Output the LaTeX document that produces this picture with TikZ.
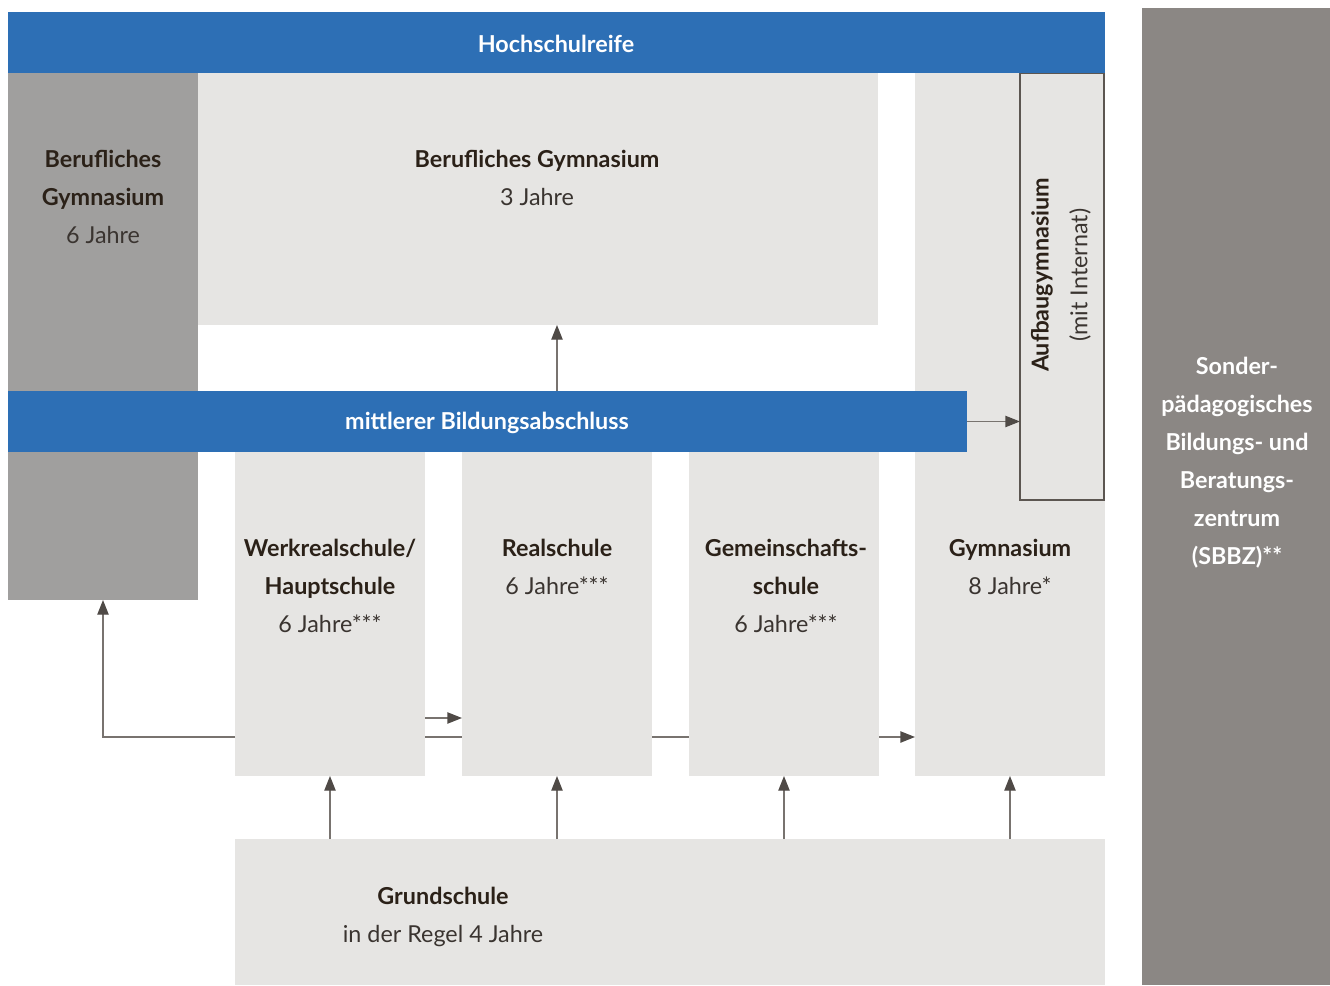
\documentclass[tikz,border=0pt]{standalone}
\usepackage{fontspec}
\setmainfont{Lato}
\usetikzlibrary{arrows.meta,fit}
\definecolor{blueband}{HTML}{2D6FB5}
\definecolor{lightbox}{HTML}{E6E5E3}
\definecolor{midbox}{HTML}{A09F9E}
\definecolor{darkbox}{HTML}{8B8784}
\definecolor{linec}{HTML}{78736F}
\definecolor{headc}{HTML}{4F4A46}
\definecolor{framec}{HTML}{5C5651}
\definecolor{txt}{HTML}{2B2118}
\definecolor{txtr}{HTML}{3A3430}
\tikzset{
  area/.style={inner sep=0pt, outer sep=0pt, draw=none},
  light/.style={area, fill=lightbox},
  band/.style={area, fill=blueband},
  conn/.style={draw=linec, line width=1pt, -{Triangle[length=11pt,width=8.5pt,color=headc]}},
  plain/.style={draw=linec, line width=1pt},
  lbl/.style={align=center, text=txt, font=\fontsize{17.5}{28.5}\selectfont, inner sep=0pt},
  white lbl/.style={lbl, text=white, font=\bfseries\fontsize{17.5}{28.5}\selectfont}
}
\newcommand{\bt}[1]{\textbf{#1}}
\newcommand{\rt}[1]{\textcolor{txtr}{#1}}
\begin{document}
\begin{tikzpicture}[x=0.75pt,y=-0.75pt]
\useasboundingbox (0,0) rectangle (1330,985);
% areas
\node[area, fill=midbox, fit={(8,73)(198,600)}] (bg6) {};
\node[light, fit={(198,73)(878,325)}] (bg3) {};
\node[light, fit={(915,73)(1105,776)}] (gym) {};
\node[light, draw=framec, line width=1.5pt, fit={(1020,73)(1104,500)}] (aufbau) {};
\node[light, fit={(235,452)(425,776)}] (ws) {};
\node[light, fit={(462,452)(652,776)}] (rs) {};
\node[light, fit={(689,452)(879,776)}] (gms) {};
\node[light, fit={(235,839)(1105,985)}] (gs) {};
\node[area, fill=darkbox, fit={(1142,8)(1330,985)}] (sbbz) {};
\node[band, fit={(8,12)(1105,73)}] (hsr) {};
\node[band, fit={(8,391)(967,452)}] (mba) {};
% labels
\node[white lbl] (thsr) at (556,44) {Hochschulreife};
\node[white lbl] (tmba) at (487,423) {mittlerer Bildungsabschluss};
\node[lbl] (tbg6) at (103,197) {\bt{Berufliches}\\\bt{Gymnasium}\\\rt{6 Jahre}};
\node[lbl] (tbg3) at (537,178) {\bt{Berufliches Gymnasium}\\\rt{3 Jahre}};
\node[lbl, rotate=90] (tauf1) at (1042,275) {\bt{Aufbaugymnasium}};
\node[lbl, rotate=90] (tauf2) at (1080,275) {\rt{(mit Internat)}};
\node[lbl] (tws) at (330,586) {\bt{Werkrealschule/}\\\bt{Hauptschule}\\\rt{6 Jahre***}};
\node[lbl] (trs) at (557,567) {\bt{Realschule}\\\rt{6 Jahre***}};
\node[lbl] (tgms) at (786,586) {\bt{Gemeinschafts-}\\\bt{schule}\\\rt{6 Jahre***}};
\node[lbl] (tgym) at (1010,567) {\bt{Gymnasium}\\\rt{8 Jahre*}};
\node[lbl] (tgs) at (443,917) {\bt{Grundschule}\\\rt{in der Regel 4 Jahre}};
\node[white lbl] (tsbbz) at (1237,463) {Sonder-\\pädagogisches\\Bildungs- und\\Beratungs-\\zentrum\\(SBBZ)**};
% connectors
\coordinate (lvl) at (0,737);
\coordinate (hi) at (0,718);
\draw[conn] (gs.north -| ws) -- (ws.south);
\draw[conn] (gs.north -| rs) -- (rs.south);
\draw[conn] (gs.north -| gms) -- (gms.south);
\draw[conn] (gs.north -| gym) -- (gym.south);
\draw[conn] (mba.north -| rs) -- (bg3.south -| rs);
\draw[conn] (mba.east) -- (aufbau.west |- mba.east);
\draw[conn] (ws.west |- lvl) -| (bg6.south);
\draw[conn] (ws.east |- hi) -- (rs.west |- hi);
\draw[plain] (ws.east |- lvl) -- (rs.west |- lvl);
\draw[plain] (rs.east |- lvl) -- (gms.west |- lvl);
\draw[conn] (gms.east |- lvl) -- (gym.west |- lvl);
\end{tikzpicture}
\end{document}
